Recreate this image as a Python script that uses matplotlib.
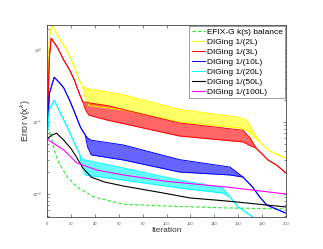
import matplotlib
matplotlib.use('Agg')
import matplotlib.pyplot as plt
import numpy as np

plt.rcParams['font.family'] = ['Liberation Sans', 'DejaVu Sans']

# iteration checkpoints, lower / upper envelope of the oscillating error
it_y = [0, 2, 4, 9, 14, 19, 23, 26, 30, 32, 35, 64, 111, 160, 167, 172, 178, 185, 190, 200]
lo_y = [0.058, 1.5, 2.22, 1.61, 1.17, 0.83, 0.58, 0.42, 0.30, 0.22, 0.17, 0.147, 0.100, 0.083, 0.077, 0.064, 0.053, 0.041, 0.037, 0.0316]
hi_y = [0.058, 1.5, 2.22, 1.61, 1.17, 0.83, 0.58, 0.42, 0.30, 0.30, 0.29, 0.24, 0.150, 0.117, 0.107, 0.077, 0.053, 0.041, 0.037, 0.0316]

it_r = [0, 2, 3.5, 9, 14, 19, 23, 27, 30, 32, 35, 50, 111, 164, 170, 175, 185, 192, 200]
lo_r = [0.058, 0.8, 1.47, 1.07, 0.73, 0.53, 0.38, 0.25, 0.19, 0.15, 0.125, 0.107, 0.064, 0.053, 0.047, 0.0435, 0.0297, 0.0253, 0.0196]
hi_r = [0.058, 0.8, 1.47, 1.07, 0.73, 0.53, 0.38, 0.25, 0.19, 0.19, 0.185, 0.17, 0.097, 0.077, 0.060, 0.0435, 0.0297, 0.0253, 0.0196]

it_b = [0, 2, 6, 10, 14, 19, 23, 28, 32, 34, 37, 64, 111, 153, 164, 172, 178, 184, 200]
lo_b = [0.058, 0.25, 0.42, 0.36, 0.30, 0.20, 0.138, 0.085, 0.066, 0.045, 0.035, 0.0297, 0.0202, 0.0184, 0.0172, 0.0125, 0.0091, 0.0070, 0.0054]
hi_b = [0.058, 0.25, 0.42, 0.36, 0.30, 0.20, 0.138, 0.085, 0.066, 0.060, 0.056, 0.048, 0.030, 0.0237, 0.0172, 0.0125, 0.0091, 0.0070, 0.0054]

it_c = [0, 2, 6, 9, 12, 17, 23, 27, 29, 32, 64, 111, 147, 153, 160, 170, 176]
lo_c = [0.058, 0.15, 0.20, 0.16, 0.125, 0.085, 0.051, 0.037, 0.025, 0.0184, 0.0156, 0.0121, 0.0103, 0.0091, 0.0066, 0.0051, 0.0042]
hi_c = [0.058, 0.15, 0.20, 0.16, 0.125, 0.085, 0.051, 0.037, 0.031, 0.0297, 0.023, 0.0156, 0.0121, 0.0091, 0.0066, 0.0051, 0.0042]

it_k = [0, 4, 8, 14, 20, 25, 30, 37, 48, 64, 92, 120, 150, 200]
v_k = [0.058, 0.066, 0.070, 0.056, 0.043, 0.032, 0.0230, 0.0172, 0.0147, 0.0129, 0.0107, 0.0088, 0.0080, 0.0066]

it_m = [0, 14, 25, 42, 64, 100, 150, 200]
v_m = [0.058, 0.041, 0.027, 0.0215, 0.0184, 0.0150, 0.0125, 0.0100]

it_g = [0, 3, 6, 10, 17, 25, 39, 64, 100, 150, 200]
v_g = [0.056, 0.073, 0.041, 0.027, 0.0172, 0.0125, 0.0091, 0.0072, 0.0068, 0.0064, 0.0062]

labels = ['EFIX-G k(s) balance', 'DIGing 1/(2L)', 'DIGing 1/(3L)', 'DIGing 1/(10L)',
          'DIGing 1/(20L)', 'DIGing 1/(50L)', 'DIGing 1/(100L)']

fig = plt.figure(figsize=(3.23, 2.49), dpi=100)
ax = fig.add_axes([0.1455, 0.1285, 0.74, 0.771])

ax.plot(it_g, v_g, '--', color='#22ee22', lw=0.8, dashes=(3, 2), label=labels[0])
bands = [(it_y, lo_y, hi_y, '#ffff00', labels[1]),
         (it_r, lo_r, hi_r, '#ff0000', labels[2]),
         (it_b, lo_b, hi_b, '#0000ff', labels[3]),
         (it_c, lo_c, hi_c, '#00ffff', labels[4])]
for it, lo, hi, col, lab in bands:
    ax.fill_between(it, lo, hi, color=col, alpha=0.6, lw=0)
    ax.plot(it, lo, color=col, lw=0.7, label=lab)
    ax.plot(it, hi, color=col, lw=0.7)
ax.plot(it_k, v_k, color='black', lw=0.8, label=labels[5])
ax.plot(it_m, v_m, color='#ff00ff', lw=0.8, label=labels[6])

ax.set_yscale('log')
ax.set_xlim(0, 200)
ax.set_ylim(10 ** -2.32, 10 ** 0.35)
ax.set_xticks(np.arange(0, 201, 20))
ax.tick_params(which='both', direction='in', top=True, right=True, labelsize=3, colors='#555555', length=2, width=0.5)
ax.tick_params(which='minor', length=1.2)
for s in ax.spines.values():
    s.set_linewidth(0.6)
    s.set_color('#444444')
ax.set_xlabel('Iteration', fontsize=6, color='#333333', labelpad=1)
ax.set_ylabel('Error v(x$^k$)', fontsize=6.5, color='#333333')
ax.yaxis.set_label_coords(-0.06, 0.5)

leg = ax.legend(loc='upper right', fontsize=6, frameon=True, fancybox=False, edgecolor='#555555',
                handlelength=1.6, labelspacing=0.25, borderpad=0.3, handletextpad=0.2,
                borderaxespad=0.1)
leg.get_frame().set_linewidth(0.5)

fig.savefig('out.png', dpi=100)
